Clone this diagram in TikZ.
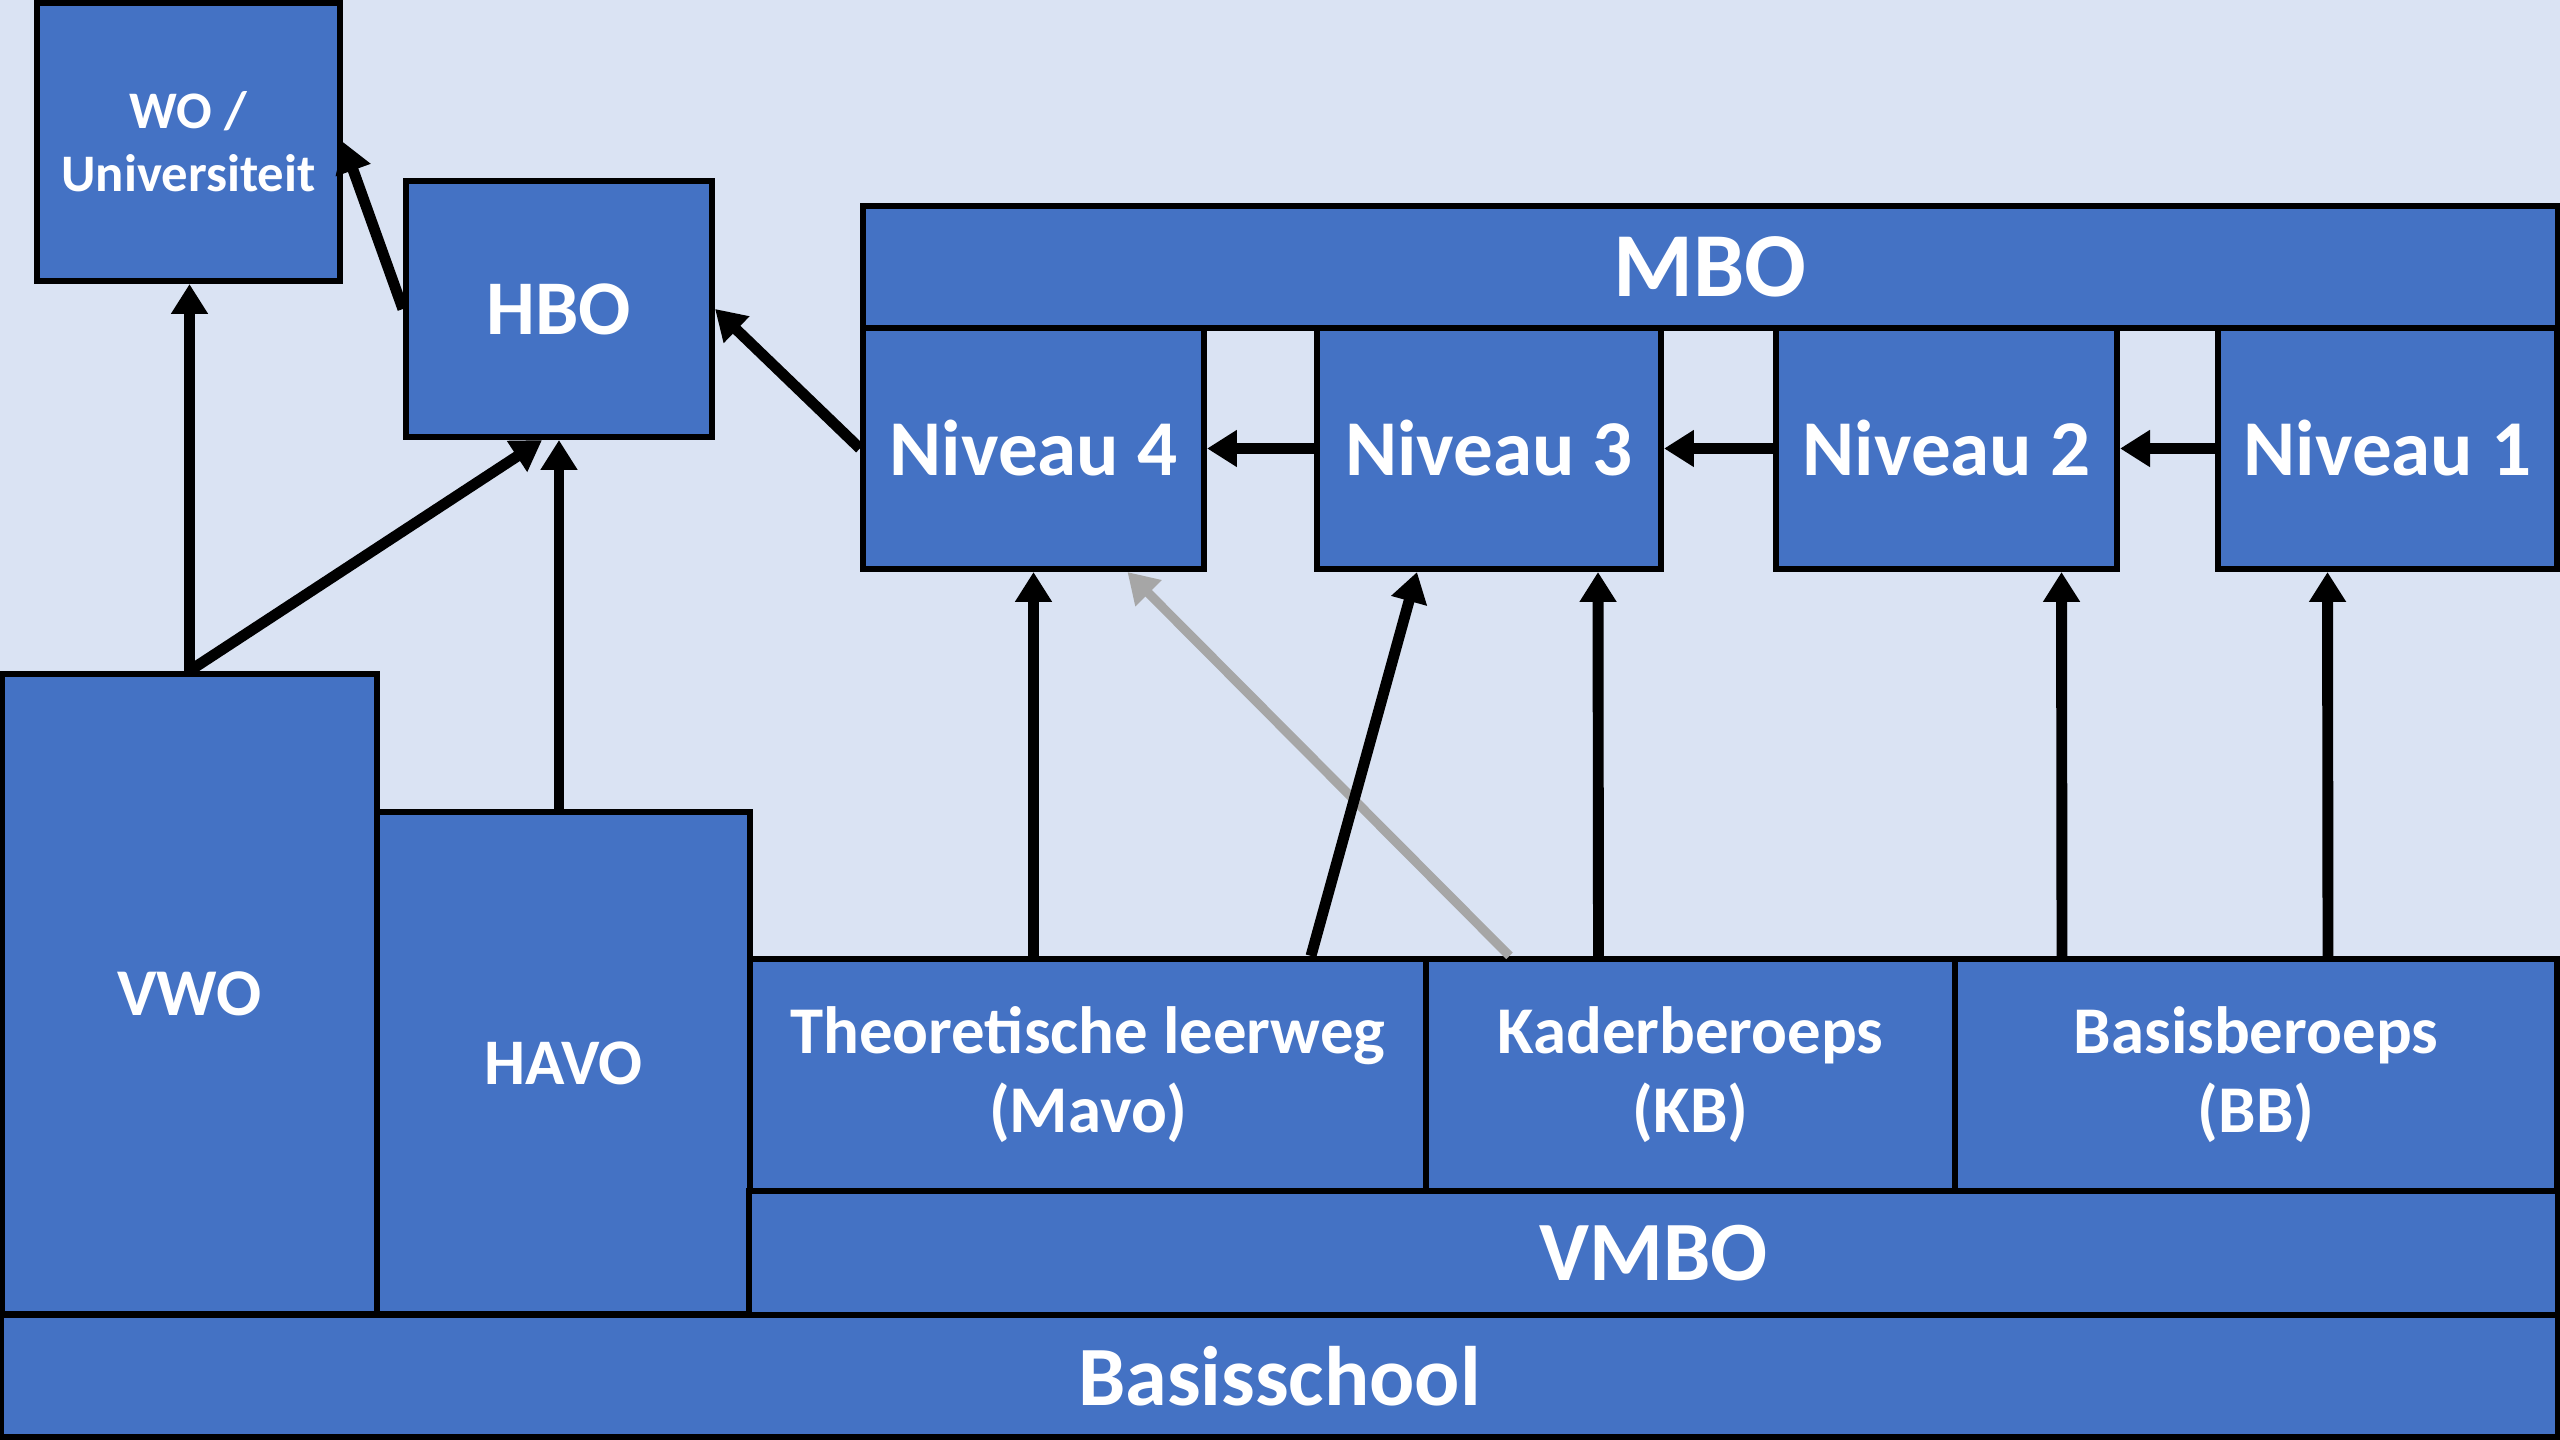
\documentclass[tikz,border=0pt]{standalone}
\usepackage{fontspec}
\setmainfont{Carlito}
\usetikzlibrary{arrows.meta,calc}
\definecolor{achtergrond}{HTML}{DAE3F3}
\definecolor{blokblauw}{HTML}{4472C4}
\definecolor{pijlgrijs}{HTML}{A6A6A6}

\begin{document}
\begin{tikzpicture}[x=0.01cm,y=-0.01cm,
    blok/.style 2 args={draw=black,line width=1.7pt,fill=blokblauw,text=white,
        align=center,inner sep=0pt,font=\bfseries\fontsize{#1}{#2}\selectfont},
    pijl/.style={line width=3.1pt,-{Triangle[length=8.5pt,width=10pt]}},
    grijs/.style={pijl,line width=2.6pt,draw=pijlgrijs,fill=pijlgrijs}]
\fill[achtergrond] (0,0) rectangle (2560,1440);
\useasboundingbox (0,0) rectangle (2560,1440);
\node[blok={15pt}{18pt},minimum width=3.03cm,minimum height=2.78cm] (wo) at (188.5,142) {WO /\\Universiteit};
\node[blok={22pt}{26pt},minimum width=3.06cm,minimum height=2.56cm] (hbo) at (559,309) {HBO};
\node[blok={26pt}{30pt},minimum width=16.94cm,minimum height=1.22cm] (mbo) at (1710,267) {MBO};
\node[blok={22.5pt}{27pt},minimum width=3.41cm,minimum height=2.41cm] (niv4) at (1033.5,448.5) {Niveau 4};
\node[blok={22.5pt}{27pt},minimum width=3.44cm,minimum height=2.41cm] (niv3) at (1489,448.5) {Niveau 3};
\node[blok={22.5pt}{27pt},minimum width=3.41cm,minimum height=2.41cm] (niv2) at (1946.5,448.5) {Niveau 2};
\node[blok={22.5pt}{27pt},minimum width=3.39cm,minimum height=2.41cm] (niv1) at (2387.5,448.5) {Niveau 1};
\node[blok={19pt}{23pt},minimum width=3.75cm,minimum height=6.40cm] (vwo) at (189.5,994) {VWO};
\node[blok={18.5pt}{22pt},minimum width=3.73cm,minimum height=5.02cm] (havo) at (563.5,1063) {HAVO};
\node[blok={19pt}{22.5pt},minimum width=6.76cm,minimum height=2.32cm] (theo) at (1088,1075) {Theoretische leerweg\\(Mavo)};
\node[blok={19pt}{22.5pt},minimum width=5.29cm,minimum height=2.32cm] (kader) at (1690.5,1075) {Kaderberoeps\\(KB)};
\node[blok={19pt}{22.5pt},minimum width=6.02cm,minimum height=2.32cm] (basis) at (2256,1075) {Basisberoeps\\(BB)};
\node[blok={24pt}{28pt},minimum width=18.07cm,minimum height=1.24cm] (vmbo) at (1653.5,1253) {VMBO};
\node[blok={24pt}{28pt},minimum width=25.55cm,minimum height=1.22cm] (school) at (1279.5,1376) {Basisschool};
\draw[pijl] (vwo.north) -- (vwo.north |- wo.south);
\draw[pijl] (vwo.north) -- ($(hbo.south)+(-17,0)$);
\draw[pijl] (hbo.south |- havo.north) -- (hbo.south);
\draw[pijl] (hbo.west) -- (wo.east);
\draw[pijl] (niv4.west) -- (hbo.east);
\foreach \van/\naar in {niv1/niv2,niv2/niv3,niv3/niv4}
    \draw[pijl] (\van.west) -- (\naar.east);
\draw[grijs] ($(kader.north)+(-181,0)$) -- ($(niv4.south)+(94,0)$);
\draw[pijl] (niv4.south |- theo.north) -- (niv4.south);
\draw[pijl] ($(theo.north)+(223,0)$) -- ($(niv3.south)+(-72,0)$);
\draw[pijl] ($(kader.north)+(-92,0)$) -- ($(niv3.south)+(109,0)$);
\draw[pijl] ($(basis.north)+(-194,0)$) -- ($(niv2.south)+(115,0)$);
\draw[pijl] ($(basis.north)+(72,0)$) -- ($(niv1.south)+(-60,0)$);
\end{tikzpicture}
\end{document}
